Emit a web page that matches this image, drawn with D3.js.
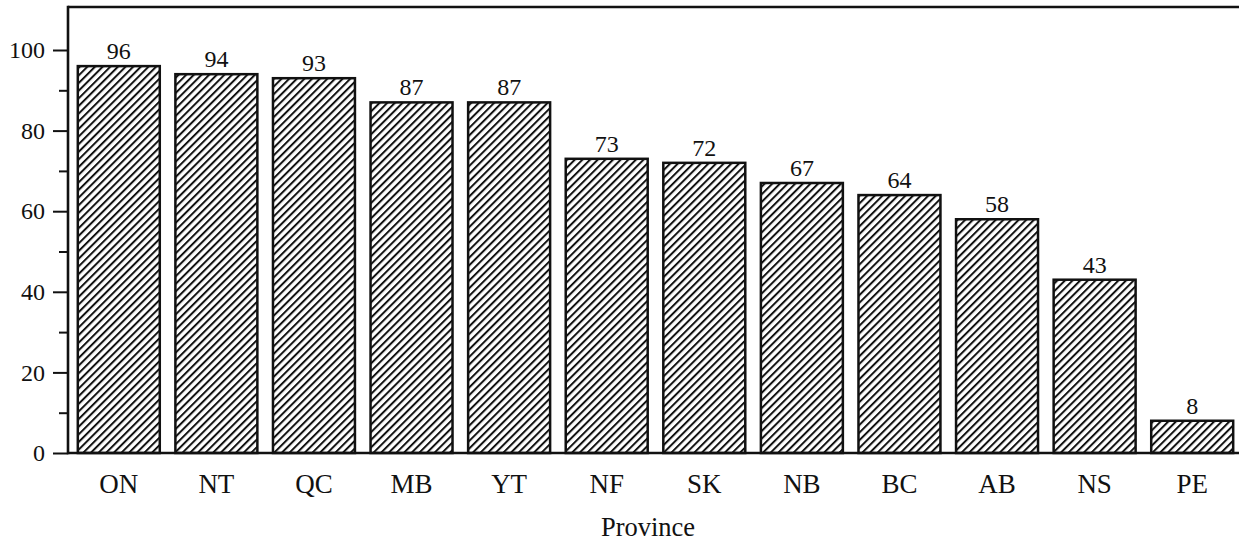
<!DOCTYPE html>
<html>
<head>
<meta charset="utf-8">
<script src="https://cdn.jsdelivr.net/npm/d3@7"></script>
<style>
  html, body { margin: 0; padding: 0; background: #fff; }
  svg { display: block; }
  text { font-family: "Liberation Serif", "Times New Roman", serif; fill: #111; }
</style>
</head>
<body>
<svg id="chart" width="1239" height="542"></svg>
<script>
// Province codes and their values
const provinces = ["ON", "NT", "QC", "MB", "YT", "NF", "SK", "NB", "BC", "AB", "NS", "PE"];
const values = [96, 94, 93, 87, 87, 73, 72, 67, 64, 58, 43, 8];
const majorTicks = [0, 20, 40, 60, 80, 100];
const minorTicks = [10, 30, 50, 70, 90];
const xTitle = "Province";

const svg = d3.select("#chart");
const W = 1239;
const plotLeft = 68, plotTop = 7, baseline = 453;

const x = d3.scaleBand()
  .domain(provinces)
  .range([70, 1241])
  .paddingInner(0.16)
  .paddingOuter(0.08);

const y = d3.scaleLinear()
  .domain([0, 100])
  .range([baseline, 50]);

// diagonal hatch fill
const defs = svg.append("defs");
const pat = defs.append("pattern")
  .attr("id", "hatch")
  .attr("patternUnits", "userSpaceOnUse")
  .attr("width", 5.4)
  .attr("height", 5.4)
  .attr("patternTransform", "rotate(45)");
pat.append("rect").attr("width", 5.4).attr("height", 5.4).attr("fill", "#fff");
pat.append("line")
  .attr("x1", 1).attr("y1", 0).attr("x2", 1).attr("y2", 5.4)
  .attr("stroke", "#111").attr("stroke-width", 2);

const rows = provinces.map((p, i) => ({ p, v: values[i] }));

// bars
svg.append("g").selectAll("rect")
  .data(rows)
  .join("rect")
  .attr("x", d => x(d.p))
  .attr("y", d => y(d.v))
  .attr("width", x.bandwidth())
  .attr("height", d => baseline - y(d.v))
  .attr("fill", "url(#hatch)")
  .attr("stroke", "#111")
  .attr("stroke-width", 2.5);

// value labels
svg.append("g").selectAll("text")
  .data(rows)
  .join("text")
  .attr("x", d => x(d.p) + x.bandwidth() / 2)
  .attr("y", d => y(d.v) - 7)
  .attr("text-anchor", "middle")
  .attr("font-size", 24)
  .text(d => d.v);

// frame: top rule and baseline
svg.append("line")
  .attr("x1", plotLeft).attr("x2", W).attr("y1", plotTop).attr("y2", plotTop)
  .attr("stroke", "#111").attr("stroke-width", 2.4);
svg.append("line")
  .attr("x1", plotLeft).attr("x2", W).attr("y1", baseline).attr("y2", baseline)
  .attr("stroke", "#111").attr("stroke-width", 2.6);

// y axis: major ticks with labels
const yAxis = svg.append("g")
  .attr("transform", `translate(${plotLeft},0)`)
  .call(d3.axisLeft(y).tickValues(majorTicks).tickSize(15).tickPadding(8).tickFormat(d3.format("d")));
yAxis.select(".domain").remove();
yAxis.selectAll(".tick line").attr("stroke", "#111").attr("stroke-width", 2);
yAxis.selectAll(".tick text")
  .attr("font-family", "Liberation Serif, serif")
  .attr("font-size", 24)
  .attr("fill", "#111");

// minor ticks
const yMinor = svg.append("g")
  .attr("transform", `translate(${plotLeft},0)`)
  .call(d3.axisLeft(y).tickValues(minorTicks).tickSize(9).tickFormat(""));
yMinor.select(".domain").remove();
yMinor.selectAll(".tick line").attr("stroke", "#111").attr("stroke-width", 2);

// vertical axis line
svg.append("line")
  .attr("x1", plotLeft).attr("x2", plotLeft).attr("y1", plotTop - 1.2).attr("y2", baseline + 1.3)
  .attr("stroke", "#111").attr("stroke-width", 2.6);

// category labels
const xAxis = svg.append("g")
  .attr("transform", `translate(0,${baseline})`)
  .call(d3.axisBottom(x).tickSize(0).tickPadding(21));
xAxis.select(".domain").remove();
xAxis.selectAll(".tick text")
  .attr("font-family", "Liberation Serif, serif")
  .attr("font-size", 27)
  .attr("fill", "#111");

// axis title
svg.append("text")
  .attr("x", 648)
  .attr("y", 536)
  .attr("text-anchor", "middle")
  .attr("font-size", 26.5)
  .text(xTitle);
</script>
</body>
</html>
